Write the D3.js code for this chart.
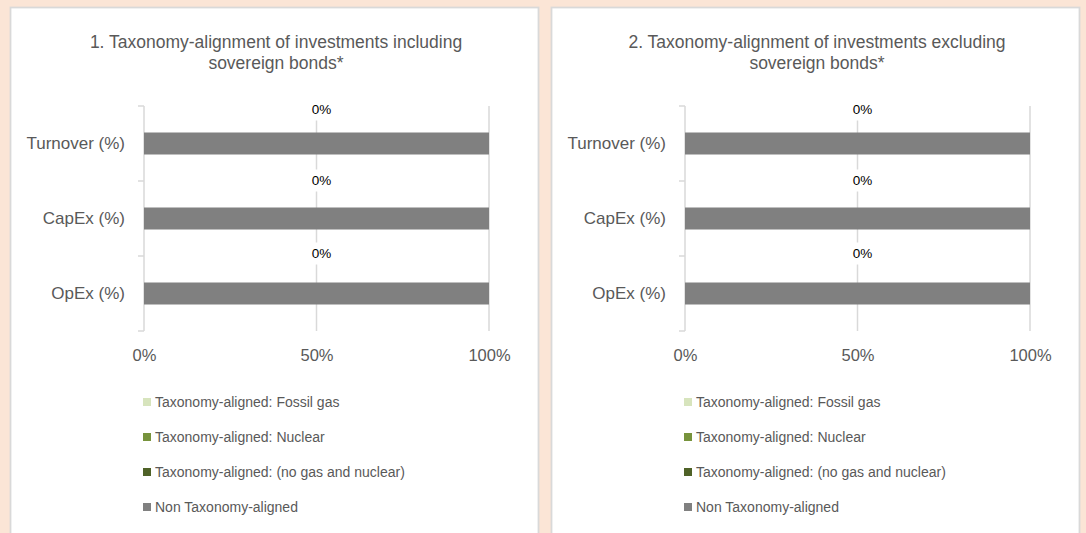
<!DOCTYPE html>
<html>
<head>
<meta charset="utf-8">
<script src="https://cdn.jsdelivr.net/npm/d3@7"></script>
<style>
  body { margin: 0; background: #FBE5D6; }
  svg { display: block; }
  text { font-family: "Liberation Sans", Arial, sans-serif; }
</style>
</head>
<body>
<svg id="chart" width="1086" height="533"></svg>
<script>
// chart values
const categories = ['Turnover (%)', 'CapEx (%)', 'OpEx (%)']
const seriesNames = [
    'Taxonomy-aligned: Fossil gas',
    'Taxonomy-aligned: Nuclear',
    'Taxonomy-aligned: (no gas and nuclear)',
    'Non Taxonomy-aligned'
]
const seriesColors = ['#D7E4BD', '#77933C', '#4F6228', '#808080']
const xTicks = [0, 50, 100]

const titlesIncl = ['1. Taxonomy-alignment of investments including', 'sovereign bonds*']
const fossilGasIncl = [0, 0, 0]
const nuclearIncl = [0, 0, 0]
const alignedIncl = [0, 0, 0]
const nonAlignedIncl = [100, 100, 100]

const titlesExcl = ['2. Taxonomy-alignment of investments excluding', 'sovereign bonds*']
const fossilGasExcl = [0, 0, 0]
const nuclearExcl = [0, 0, 0]
const alignedExcl = [0, 0, 0]
const nonAlignedExcl = [100, 100, 100]

const panels = [
    { left: 10, title: titlesIncl, series: [fossilGasIncl, nuclearIncl, alignedIncl, nonAlignedIncl] },
    { left: 551, title: titlesExcl, series: [fossilGasExcl, nuclearExcl, alignedExcl, nonAlignedExcl] }
]

const svg = d3.select('#chart')
const panelWidth = 528
const margin = { top: 106, left: 134, plotWidth: 345, plotHeight: 225 }
const textGray = '#595959'
const lineGray = '#D9D9D9'
// the data labels were dragged by hand above each bar
const labelShift = [-23, -27, -29]

panels.forEach(p => {
    let g = svg.append('g').attr('transform', 'translate(' + p.left + ',0)')

    g.append('rect')
        .attr('x', 0.5).attr('y', 7.5)
        .attr('width', panelWidth).attr('height', 560)
        .attr('fill', '#fff')
        .attr('stroke', lineGray).attr('stroke-width', 1.8)

    // title
    g.append('text')
        .attr('x', panelWidth / 2 + 2).attr('y', 48)
        .attr('text-anchor', 'middle')
        .style('font-size', '17.5px').style('fill', textGray)
        .selectAll('tspan').data(p.title).enter().append('tspan')
        .attr('x', panelWidth / 2 + 2)
        .attr('dy', (d, i) => i == 0 ? 0 : 21)
        .text(d => d)

    // table rows for the stack
    let rows = categories.map((c, i) => {
        let r = { cat: c }
        seriesNames.forEach((s, j) => r[s] = p.series[j][i])
        return r
    })
    let stacked = d3.stack().keys(seriesNames)(rows)

    let xScale = d3.scaleLinear().domain([0, 100])
        .range([margin.left, margin.left + margin.plotWidth])
    let yScale = d3.scaleBand().domain(categories)
        .range([margin.top, margin.top + margin.plotHeight])
        .paddingInner(0.7067).paddingOuter(0.35335)
    let step = yScale.step()

    // gridlines
    g.selectAll('.grid').data(xTicks.filter(t => t > 0)).enter().append('line')
        .attr('x1', d => xScale(d)).attr('x2', d => xScale(d))
        .attr('y1', margin.top).attr('y2', margin.top + margin.plotHeight)
        .attr('stroke', lineGray).attr('stroke-width', 1.5)

    // category axis line + ticks between categories
    g.append('line')
        .attr('x1', xScale(0)).attr('x2', xScale(0))
        .attr('y1', margin.top).attr('y2', margin.top + margin.plotHeight)
        .attr('stroke', lineGray).attr('stroke-width', 1.5)
    g.selectAll('.ytick').data(d3.range(categories.length + 1)).enter().append('line')
        .attr('x1', xScale(0) - 6).attr('x2', xScale(0))
        .attr('y1', i => margin.top + i * step).attr('y2', i => margin.top + i * step)
        .attr('stroke', lineGray).attr('stroke-width', 1.5)

    let yAxis = d3.axisLeft(yScale).tickSize(0).tickPadding(19)
    let yAxisG = g.append('g').attr('transform', 'translate(' + xScale(0) + ',0)').call(yAxis)
    yAxisG.select('.domain').remove()
    yAxisG.selectAll('text').style('font-size', '17px').style('fill', textGray)
        .style('font-family', '"Liberation Sans", Arial, sans-serif')

    let xAxis = d3.axisBottom(xScale).tickValues(xTicks).tickFormat(d => d + '%').tickSize(0).tickPadding(18)
    let xAxisG = g.append('g').attr('transform', 'translate(0,' + (margin.top + margin.plotHeight) + ')').call(xAxis)
    xAxisG.select('.domain').remove()
    xAxisG.selectAll('text').style('font-size', '16.5px').style('fill', textGray)
        .style('font-family', '"Liberation Sans", Arial, sans-serif')

    // bars
    g.selectAll('.layer').data(stacked).enter().append('g')
        .attr('fill', (d, i) => seriesColors[i])
        .selectAll('rect').data(d => d).enter().append('rect')
        .attr('x', d => xScale(d[0]))
        .attr('width', d => xScale(d[1]) - xScale(d[0]))
        .attr('y', d => yScale(d.data.cat))
        .attr('height', yScale.bandwidth())

    // data labels of the aligned share, moved above the bars
    let labelG = g.selectAll('.dlabel').data(categories).enter().append('g')
        .attr('transform', (c, i) => 'translate(' + (xScale(50) + 5) + ',' + (yScale(c) + labelShift[i]) + ')')
    labelG.append('rect')
        .attr('x', -15).attr('y', -11).attr('width', 30).attr('height', 22)
        .attr('fill', '#fff')
    labelG.append('text')
        .attr('text-anchor', 'middle').attr('dy', '0.35em')
        .style('font-size', '13.5px').style('fill', '#000')
        .text((c, i) => p.series[2][i] + '%')

    // legend
    let legend = g.selectAll('.legend').data(seriesNames).enter().append('g')
        .attr('transform', (d, i) => 'translate(' + (xScale(0) - 1) + ',' + (402 + i * 35) + ')')
    legend.append('rect')
        .attr('x', 0).attr('y', -4).attr('width', 8).attr('height', 8)
        .attr('fill', (d, i) => seriesColors[i])
    legend.append('text')
        .attr('x', 12).attr('dy', '0.35em')
        .style('font-size', '14px').style('fill', textGray)
        .text(d => d)
})
</script>
</body>
</html>
